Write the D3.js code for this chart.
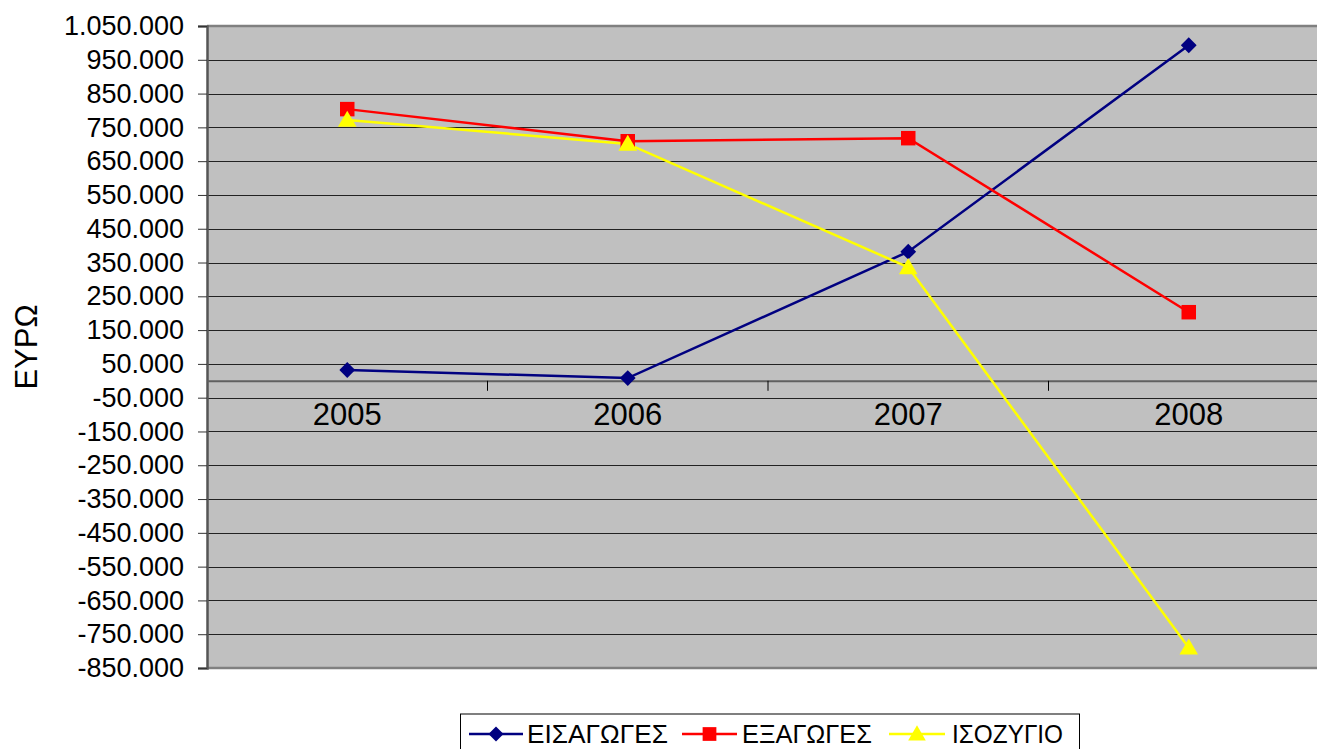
<!DOCTYPE html>
<html>
<head>
<meta charset="utf-8">
<script src="https://cdn.jsdelivr.net/npm/d3@7/dist/d3.min.js"></script>
<style>
html,body{margin:0;padding:0;background:#fff;}
svg{display:block;font-family:"Liberation Sans",Arial,sans-serif;}
</style>
</head>
<body>
<svg id="chart" width="1317" height="749"></svg>
<script>
const years = ["2005", "2006", "2007", "2008"];
const imports = [32000, 8000, 382000, 993000];
const exports = [804000, 709000, 718000, 203000];
const balance = [772000, 701000, 336000, -790000];
const seriesNames = ["ΕΙΣΑΓΩΓΕΣ", "ΕΞΑΓΩΓΕΣ", "ΙΣΟΖΥΓΙΟ"];
const yTicks = [1050000, 950000, 850000, 750000, 650000, 550000, 450000, 350000, 250000, 150000, 50000,
  -50000, -150000, -250000, -350000, -450000, -550000, -650000, -750000, -850000];
const yTitle = "ΕΥΡΩ";

const series = [
  {name: seriesNames[0], values: imports, color: "#000080", shape: d3.symbolSquare, size: 125, rot: 45, dy: 0},
  {name: seriesNames[1], values: exports, color: "#FF0000", shape: d3.symbolSquare, size: 210, rot: 0, dy: 0},
  {name: seriesNames[2], values: balance, color: "#FFFF00", shape: d3.symbolTriangle, size: 150, rot: 0, dy: 1.5}
];

const svg = d3.select("#chart");
const L = 207, T = 26, R = 1329, B = 668;

const x = d3.scaleBand().domain(years).range([L, R]);
const y = d3.scaleLinear().domain([-850000, 1050000]).range([B, T]);
const loc = d3.formatLocale({decimal: ",", thousands: ".", grouping: [3], currency: ["€", ""], minus: "-"});
const fmt = loc.format(",d");

// plot background
svg.append("rect").attr("x", L).attr("y", T).attr("width", R - L).attr("height", B - T).attr("fill", "#C0C0C0");

// gridlines
svg.append("g").selectAll("line").data(yTicks.filter(v => v !== 1050000 && v !== -850000)).join("line")
  .attr("x1", L).attr("x2", R).attr("y1", d => Math.round(y(d)) + 0.5).attr("y2", d => Math.round(y(d)) + 0.5)
  .attr("stroke", "#222").attr("stroke-width", 1);

// borders
svg.append("line").attr("x1", L).attr("x2", R).attr("y1", T).attr("y2", T).attr("stroke", "#808080").attr("stroke-width", 2.5);
svg.append("line").attr("x1", L).attr("x2", R).attr("y1", B).attr("y2", B).attr("stroke", "#808080").attr("stroke-width", 2.5);

// y axis
const yAxis = d3.axisLeft(y).tickValues(yTicks).tickFormat(fmt).tickSize(9).tickPadding(14);
const gy = svg.append("g").attr("transform", `translate(${L},0)`).call(yAxis);
gy.select(".domain").attr("stroke", "#555").attr("stroke-width", 2.5);
gy.selectAll(".tick line").attr("stroke", "#333");
gy.selectAll(".tick text").attr("font-size", 27).attr("fill", "#000").attr("font-family", "Liberation Sans, Arial, sans-serif");

// category axis at zero
const xAxis = d3.axisBottom(x).tickSize(0).tickPadding(22);
const gx = svg.append("g").attr("transform", `translate(0,${y(0)})`).call(xAxis);
gx.select(".domain").attr("stroke", "#606060").attr("stroke-width", 2);
gx.selectAll(".tick text").attr("font-size", 31).attr("fill", "#000").attr("font-family", "Liberation Sans, Arial, sans-serif");
// between-category tick marks
svg.append("g").selectAll("line").data(years.slice(1)).join("line")
  .attr("x1", d => x(d)).attr("x2", d => x(d)).attr("y1", y(0)).attr("y2", y(0) + 10)
  .attr("stroke", "#000").attr("stroke-width", 1);

// y title
svg.append("text").attr("transform", `translate(37,${(302 + 392) / 2}) rotate(-90)`)
  .attr("text-anchor", "middle").attr("font-size", 31).text(yTitle);

// series
const line = d3.line().x((d, i) => x(years[i]) + x.bandwidth() / 2).y(d => y(d));
series.forEach(s => {
  svg.append("path").datum(s.values).attr("d", line).attr("fill", "none")
    .attr("stroke", s.color).attr("stroke-width", 2.5);
});
series.forEach(s => {
  svg.append("g").selectAll("path").data(s.values).join("path")
    .attr("d", d3.symbol().type(s.shape).size(s.size))
    .attr("transform", (d, i) => `translate(${x(years[i]) + x.bandwidth() / 2},${y(d) + s.dy}) rotate(${s.rot})`)
    .attr("fill", s.color);
});

// legend
const lg = svg.append("g");
lg.append("rect").attr("x", 460.5).attr("y", 714).attr("width", 619).attr("height", 50)
  .attr("fill", "#fff").attr("stroke", "#000").attr("stroke-width", 1);
const items = [
  {x1: 469, x2: 523, tx: 527, tw: 141},
  {x1: 682, x2: 737, tx: 742, tw: 130},
  {x1: 889, x2: 945, tx: 952, tw: 111}
];
series.forEach((s, i) => {
  const it = items[i];
  lg.append("line").attr("x1", it.x1).attr("x2", it.x2).attr("y1", 734).attr("y2", 734)
    .attr("stroke", s.color).attr("stroke-width", 2.5);
  lg.append("path").attr("d", d3.symbol().type(s.shape).size(s.size * 0.9))
    .attr("transform", `translate(${(it.x1 + it.x2) / 2},${734 + s.dy}) rotate(${s.rot})`)
    .attr("fill", s.color);
  lg.append("text").attr("x", it.tx).attr("y", 743).attr("font-size", 25)
    .attr("textLength", it.tw).attr("lengthAdjust", "spacingAndGlyphs").text(s.name);
});
</script>
</body>
</html>
